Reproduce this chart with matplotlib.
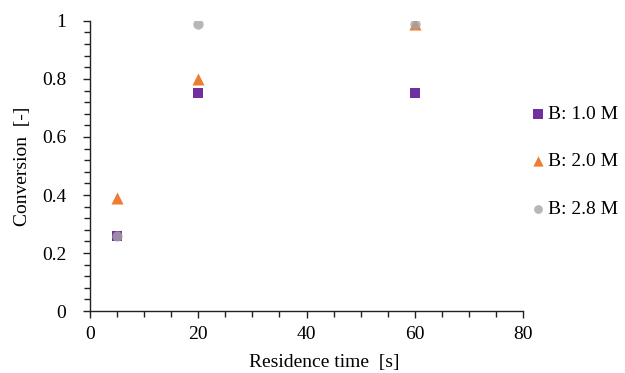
import matplotlib
matplotlib.use("Agg")
import matplotlib.pyplot as plt
from matplotlib.ticker import MultipleLocator

plt.rcParams['font.family'] = ['Liberation Serif', 'DejaVu Serif']

time_s = [5, 20, 60]
b10 = [0.26, 0.75, 0.75]
b20 = [0.39, 0.80, 0.99]
b28 = [0.26, 0.99, 0.99]
labels = ["B: 1.0 M", "B: 2.0 M", "B: 2.8 M"]

fig = plt.figure(figsize=(6.25, 3.73), dpi=100)
ax = fig.add_axes([0.144, 0.166, 0.693, 0.778])

ax.scatter(time_s, b10, marker='s', s=60, color='#7030A0', label=labels[0], zorder=3, linewidths=0)
ax.scatter(time_s, b20, marker='^', s=75, color='#ED7D31', label=labels[1], zorder=3, linewidths=0)
ax.scatter(time_s, b28, marker='o', s=55, color='#A5A5A5', label=labels[2], zorder=4, linewidths=0, alpha=0.8)

ax.set_xlim(0, 80)
ax.set_ylim(0, 1)
ax.xaxis.set_major_locator(MultipleLocator(20))
ax.xaxis.set_minor_locator(MultipleLocator(5))
ax.yaxis.set_major_locator(MultipleLocator(0.2))
ax.yaxis.set_minor_locator(MultipleLocator(0.04))
ax.yaxis.set_major_formatter(matplotlib.ticker.FuncFormatter(lambda v, p: f"{v:g}"))

for s in ['top', 'right']:
    ax.spines[s].set_visible(False)
for s in ['left', 'bottom']:
    ax.spines[s].set_color('#222222')
    ax.spines[s].set_linewidth(1.0)

ax.tick_params(which='major', direction='out', length=5, width=1, color='#222222', labelsize=14)
ax.tick_params(axis='y', which='major', pad=12)
ax.tick_params(axis='x', which='major', pad=6)
ax.tick_params(which='minor', direction='out', length=4, width=1, color='#222222')

ax.set_xlabel("Residence time  [s]", fontsize=14)
ax.xaxis.set_label_coords(0.54, -0.148)
ax.set_ylabel("Conversion  [-]", fontsize=14, labelpad=8)

leg = ax.legend(loc='center left', bbox_to_anchor=(0.995, 0.515), frameon=False, fontsize=14,
                handletextpad=0.0, labelspacing=1.55, handlelength=1.0, markerscale=0.85,
                borderaxespad=0.0)

fig.savefig("out.png", dpi=100)
